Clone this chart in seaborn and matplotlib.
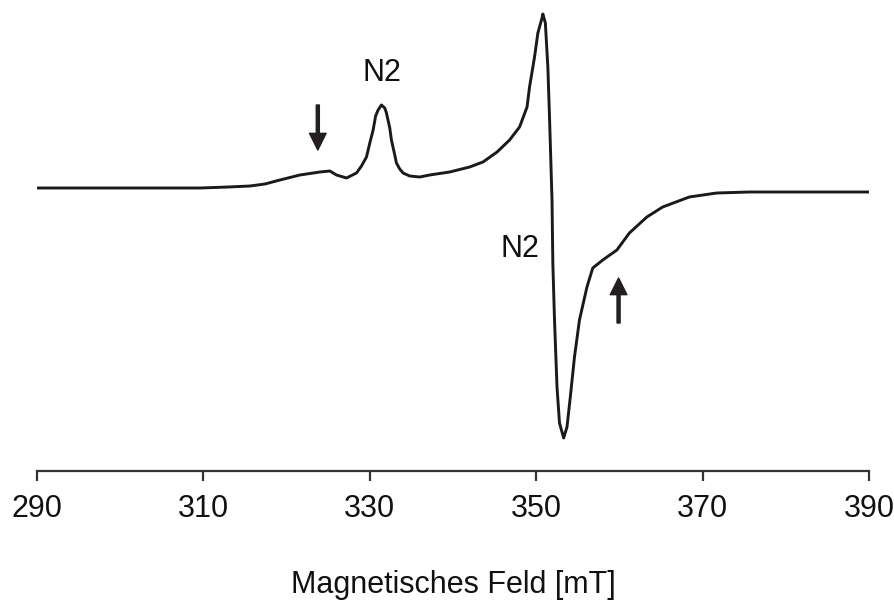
import matplotlib
matplotlib.use("Agg")
import matplotlib.pyplot as plt
import seaborn as sns
import pandas as pd

# EPR spectrum: magnetic field (mT) and first-derivative signal (arb. units)
field_mT = [290.0, 297.6, 303.6, 309.6, 313.0, 315.6, 317.4, 319.2, 321.6, 324.0,
            325.2, 326.0, 327.2, 328.4, 329.0, 329.6, 330.0, 330.4, 330.7, 331.0,
            331.4, 331.8, 332.0, 332.4, 332.6, 333.0, 333.2, 333.6, 334.0, 334.8,
            336.0, 337.2, 339.6, 342.0, 343.6, 345.3, 346.8, 348.0, 348.9, 349.2,
            349.8, 350.2, 350.7, 350.8, 351.1, 351.4, 351.6, 351.9, 352.0, 352.2,
            352.5, 352.8, 353.3, 353.7, 354.1, 354.6, 355.2, 356.1, 356.8, 358.0,
            359.7, 361.2, 363.3, 365.2, 368.4, 371.7, 375.6, 381.7, 390.0]
signal = [0, 0, 0, 0, 1, 2, 4, 8, 13, 16,
          17, 13, 10, 15, 22, 31, 45, 58, 72, 78,
          83, 80, 75, 60, 48, 33, 25, 19, 15, 12,
          11, 13, 16, 21, 26, 36, 48, 61, 81, 101,
          131, 155, 170, 174, 165, 121, 71, -12, -75, -132,
          -199, -235, -250, -239, -209, -169, -132, -99, -80, -72,
          -62, -45, -29, -19, -9, -5, -4, -4, -4]

xticks = [290, 310, 330, 350, 370, 390]
peak_label = "N2"
xlabel = "Magnetisches Feld [mT]"

sns.set_theme(style="white")
plt.rcParams["font.family"] = ["Liberation Sans", "DejaVu Sans"]

df = pd.DataFrame({"field": field_mT, "signal": signal})

fig = plt.figure(figsize=(8.94, 6.01), dpi=100)
ax = fig.add_axes([37 / 894, 130 / 601, 832 / 894, 466 / 601])

sns.lineplot(data=df, x="field", y="signal", ax=ax, color="#1a1a1a",
             linewidth=2.1, estimator=None)

ax.set_xlim(290, 390)
ax.set_ylim(-283, 183)
ax.set_xticks(xticks)
ax.set_xticklabels([str(t) for t in xticks], fontsize=22)
ax.set_yticks([])
ax.set_xlabel(xlabel, fontsize=22, labelpad=33, color="#111111")
ax.set_ylabel("")

for side in ("top", "right", "left"):
    ax.spines[side].set_visible(False)
ax.spines["bottom"].set_color("#333333")
ax.spines["bottom"].set_linewidth(1.6)
ax.tick_params(axis="x", direction="out", length=7.5, width=1.6,
               color="#333333", pad=9, labelcolor="#111111", bottom=True)

# Peak labels
ax.text(331.5, 115, peak_label, fontsize=22, ha="center", va="center", color="#111111")
ax.text(348.1, -61, peak_label, fontsize=22, ha="center", va="center", color="#111111")

# Arrows marking the weaker features
arrow_kw = dict(width=2.2, headwidth=12, headlength=12, shrink=0,
                color="#231f20")
ax.annotate("", xy=(323.75, 38), xytext=(323.75, 83), arrowprops=arrow_kw)
ax.annotate("", xy=(359.9, -90), xytext=(359.9, -135), arrowprops=arrow_kw)

fig.savefig("out.png", dpi=100)
